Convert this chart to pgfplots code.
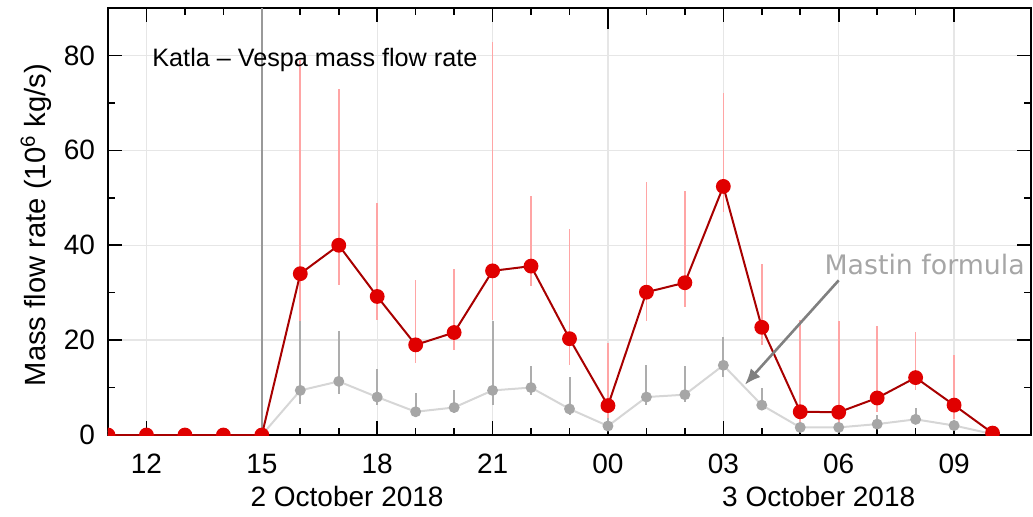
\documentclass[border=0pt]{standalone}
\usepackage{pgfplots}
\pgfplotsset{compat=1.18}
\usetikzlibrary{arrows.meta}
\usepackage{fontspec}
\setmainfont{Liberation Sans}
\newfontfamily\dejavu{DejaVu Sans}

\definecolor{dred}{HTML}{A80000}
\definecolor{mred}{HTML}{E00000}
\definecolor{lred}{HTML}{FFA5A5}
\definecolor{lgray}{HTML}{D6D6D6}
\definecolor{mgray}{HTML}{A6A6A6}
\definecolor{egray}{HTML}{ADADAD}
\definecolor{gridc}{HTML}{E6E6E6}

\begin{document}
\begin{tikzpicture}
\begin{axis}[
    scale only axis,
    at={(0,0)}, anchor=south west,
    width=461.5pt, height=213.5pt,
    xmin=11, xmax=35, ymin=0, ymax=90,
    xtick={12,15,18,21,24,27,30,33},
    xticklabels={12,15,18,21,00,03,06,09},
    minor x tick num=2,
    ytick={0,20,40,60,80},
    minor y tick num=1,
    major tick length=7pt, minor tick length=3.5pt,
    tick style={black, line width=0.8pt},
    axis line style={line width=1pt},
    grid=major,
    major grid style={gridc, line width=0.7pt},
    extra x ticks={24}, extra x tick labels={},
    extra x tick style={major tick length=10.5pt, grid=none},
    /pgf/number format/assume math mode=true,
    tick label style={font=\fontsize{14}{16}\selectfont},
    xticklabel style={yshift=-6pt},
    yticklabel style={xshift=-3pt},
    clip mode=individual,
    clip marker paths=true,
]
% reference line at 15 UTC
\addplot[forget plot, color=black!40, line width=0.8pt] coordinates {(15,0) (15,90)};

% red error bars
\addplot[only marks, mark=none, forget plot,
    error bars/.cd, y dir=both, y explicit, error mark=none,
    error bar style={lred, line width=0.8pt}]
coordinates {
 (16,34.0) += (0,45.0) -= (0,10.0)
 (17,40.0) += (0,33.0) -= (0,8.3)
 (18,29.2) += (0,19.7) -= (0,5.0)
 (19,19.0) += (0,13.6) -= (0,3.8)
 (20,21.6) += (0,13.3) -= (0,3.6)
 (21,34.6) += (0,48.3) -= (0,10.3)
 (22,35.6) += (0,14.8) -= (0,4.2)
 (23,20.3) += (0,23.2) -= (0,5.5)
 (24,6.2)  += (0,13.2) -= (0,4.0)
 (25,30.1) += (0,23.2) -= (0,6.1)
 (26,32.1) += (0,19.4) -= (0,5.1)
 (27,52.4) += (0,19.7) -= (0,5.5)
 (28,22.7) += (0,13.4) -= (0,3.7)
 (29,4.9)  += (0,19.4) -= (0,3.0)
 (30,4.8)  += (0,19.2) -= (0,3.0)
 (31,7.8)  += (0,15.1) -= (0,3.0)
 (32,12.1) += (0,9.6)  -= (0,2.6)
 (33,6.3)  += (0,10.6) -= (0,3.0)
};

% grey (Mastin) error bars
\addplot[only marks, mark=none, forget plot,
    error bars/.cd, y dir=both, y explicit, error mark=none,
    error bar style={egray, line width=1pt}]
coordinates {
 (16,9.4)  += (0,14.6) -= (0,2.9)
 (17,11.3) += (0,10.7) -= (0,2.6)
 (18,8.0)  += (0,6.0)  -= (0,1.7)
 (19,4.9)  += (0,4.0)  -= (0,1.1)
 (20,5.8)  += (0,3.7)  -= (0,1.2)
 (21,9.4)  += (0,14.6) -= (0,3.1)
 (22,10.0) += (0,4.5)  -= (0,1.5)
 (23,5.5)  += (0,6.8)  -= (0,1.3)
 (24,1.9)  += (0,1.6)  -= (0,1.0)
 (25,8.0)  += (0,6.8)  -= (0,1.7)
 (26,8.5)  += (0,6.0)  -= (0,1.6)
 (27,14.7) += (0,6.0)  -= (0,2.4)
 (28,6.3)  += (0,3.7)  -= (0,1.0)
 (29,1.6)  += (0,1.0)  -= (0,0.5)
 (30,1.6)  += (0,1.0)  -= (0,0.5)
 (31,2.3)  += (0,1.9)  -= (0,0.8)
 (32,3.3)  += (0,2.3)  -= (0,1.0)
 (33,2.0)  += (0,1.2)  -= (0,0.6)
};

% Mastin formula
\addplot[color=lgray, line width=1pt, mark=*, mark size=2.2pt,
    mark options={fill=mgray, draw=mgray}]
coordinates {
 (11,0) (12,0) (13,0) (14,0) (15,0)
 (16,9.4) (17,11.3) (18,8.0) (19,4.9) (20,5.8) (21,9.4) (22,10.0)
 (23,5.5) (24,1.9) (25,8.0) (26,8.5) (27,14.7) (28,6.3) (29,1.6)
 (30,1.6) (31,2.3) (32,3.3) (33,2.0) (34,0.2)
};

% Vespa
\addplot[color=dred, line width=1pt, mark=*, mark size=3.2pt,
    mark options={fill=mred, draw=mred}]
coordinates {
 (11,0) (12,0) (13,0) (14,0) (15,0)
 (16,34.0) (17,40.0) (18,29.2) (19,19.0) (20,21.6) (21,34.6) (22,35.6)
 (23,20.3) (24,6.2) (25,30.1) (26,32.1) (27,52.4) (28,22.7) (29,4.9)
 (30,4.8) (31,7.8) (32,12.1) (33,6.3) (34,0.4)
};

\node[anchor=base west, inner sep=0pt, font=\fontsize{12.6}{14}\selectfont]
    at (rel axis cs:0.0477,0.864) {Katla -- Vespa mass flow rate};
\node[anchor=base west, inner sep=0pt, text=mgray, font=\dejavu\fontsize{13.4}{15}\selectfont]
    at (axis cs:29.62,33.9) {Mastin formula};
\draw[-{Latex[length=8pt,width=6.5pt]}, color=black!50, line width=1.3pt]
    (axis cs:30.0,32.6) -- (axis cs:27.56,10.6);
\end{axis}

\node[anchor=base, font=\fontsize{14}{16}\selectfont] at (0.259*461.5pt,-35.5pt) {2 October 2018};
\node[anchor=base, font=\fontsize{14}{16}\selectfont] at (0.770*461.5pt,-35.5pt) {3 October 2018};
\node[rotate=90, font=\fontsize{14.6}{16}\selectfont] at (-36pt,105pt)
    {Mass flow rate (10\textsuperscript{6} kg/s)};

\pgfresetboundingbox
\path[use as bounding box] (-54pt,-40.5pt) rectangle (462.5pt,217.5pt);
\end{tikzpicture}
\end{document}
